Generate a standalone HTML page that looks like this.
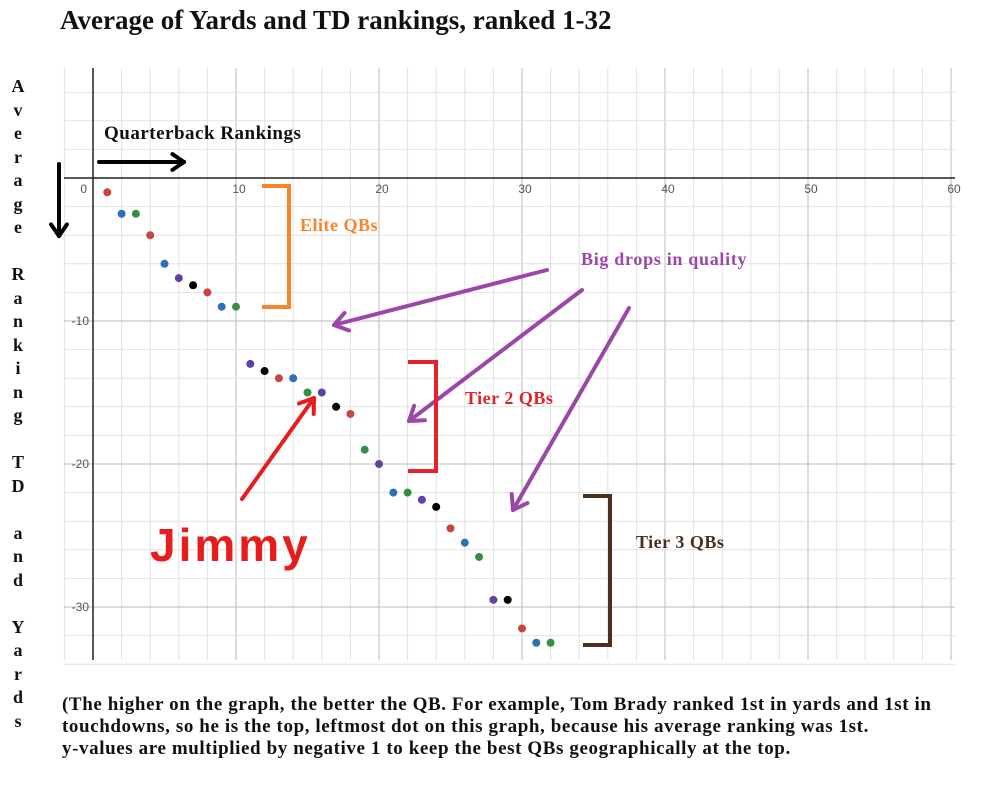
<!DOCTYPE html>
<html><head><meta charset="utf-8">
<style>
html,body{margin:0;padding:0;background:#fff;}
body{width:983px;height:800px;overflow:hidden;position:relative;font-family:"Liberation Serif",serif;}
.t{position:absolute;font-weight:bold;white-space:nowrap;}
.an{font-size:18px;letter-spacing:0.5px;}
</style></head>
<body>
<div class="t" style="left:60px;top:5px;font-size:27px;color:#111;">Average of Yards and TD rankings, ranked 1-32</div>
<svg id="chart" width="983" height="800" style="position:absolute;left:0;top:0">
<g id="grid"></g><g id="axes"></g><g id="pts"></g><g id="anno"></g>
</svg>
<div class="t" style="left:104px;top:123px;font-size:19px;letter-spacing:0.5px;color:#111;">Quarterback Rankings</div>
<div class="t an" style="left:300px;top:215px;color:#f5842c;">Elite QBs</div>
<div class="t an" style="left:581px;top:249px;color:#9b47a8;letter-spacing:0.7px;">Big drops in quality</div>
<div class="t an" style="left:465px;top:388px;color:#e3232b;">Tier 2 QBs</div>
<div class="t an" style="left:636px;top:532px;color:#4a2e1e;">Tier 3 QBs</div>
<div class="t" style="left:150px;top:518px;font-size:46px;color:#e81c1c;font-family:'Liberation Sans',sans-serif;letter-spacing:3px;">Jimmy</div>
<div class="t" style="left:62px;top:694px;font-size:19px;letter-spacing:0.6px;color:#111;line-height:22px;">(The higher on the graph, the better the QB. For example, Tom Brady ranked 1st in yards and 1st in<br>touchdowns, so he is the top, leftmost dot on this graph, because his average ranking was 1st.<br>y-values are multiplied by negative 1 to keep the best QBs geographically at the top.</div>
<div id="ylab"></div>
<script>
const xs=[1,2,3,4,5,6,7,8,9,10,11,12,13,14,15,16,17,18,19,20,21,22,23,24,25,26,27,28,29,30,31,32];
const ys=[-1,-2.5,-2.5,-4,-6,-7,-7.5,-8,-9,-9,-13,-13.5,-14,-14,-15,-15,-16,-16.5,-19,-20,-22,-22,-22.5,-23,-24.5,-25.5,-26.5,-29.5,-29.5,-31.5,-32.5,-32.5];
const cols=["r","b","g","r","b","p","k","r","b","g","p","k","r","b","g","p","k","r","g","p","b","g","p","k","r","b","g","p","k","r","b","g"];
const xTicks=[0,10,20,30,40,50,60];
const yTicks=[-10,-20,-30];
const palette={r:"#c74440",b:"#2d70b3",g:"#388c46",p:"#6042a6",k:"#000000"};
const sx=v=>93+v*14.3, sy=v=>178-v*14.3;
const NS="http://www.w3.org/2000/svg";
function mk(p,tag,a){const e=document.createElementNS(NS,tag);for(const k in a)e.setAttribute(k,a[k]);p.appendChild(e);return e;}
const grid=document.getElementById('grid'),axes=document.getElementById('axes'),pts=document.getElementById('pts'),anno=document.getElementById('anno');
for(let v=-2;v<=60;v+=2){const x=sx(v);const l=mk(grid,'line',{x1:x,x2:x,y1:68,y2:660,stroke:v%10==0?'#bbb':'#e2e2e2','stroke-width':1});

}
for(let v=6;v>=-34;v-=2){const y=sy(v);const l=mk(grid,'line',{x1:64,x2:955,y1:y,y2:y,stroke:v%10==0?'#bbb':'#e2e2e2','stroke-width':1});

}
let a=mk(axes,'line',{x1:sx(0),x2:sx(0),y1:68,y2:660,stroke:'#222','stroke-width':1.5});


a=mk(axes,'line',{x1:64,x2:955,y1:sy(0),y2:sy(0),stroke:'#222','stroke-width':1.5});


xTicks.forEach(v=>{const t=mk(axes,'text',{x:v==0?sx(v)-6:sx(v)+3,y:193,'font-size':12,fill:'#555','font-family':'Liberation Sans, sans-serif','text-anchor':v==0?'end':'middle'});t.textContent=v;

});
yTicks.forEach(v=>{const t=mk(axes,'text',{x:sx(0)-4,y:sy(v)+4,'font-size':12,fill:'#555','font-family':'Liberation Sans, sans-serif','text-anchor':'end'});t.textContent=v;

});
xs.forEach((x,i)=>{const c=mk(pts,'circle',{cx:sx(x),cy:sy(ys[i]),r:4,fill:palette[cols[i]]});

});
function arrow(x1,y1,x2,y2,c,w,h,name){const g=mk(anno,'g',{});
mk(g,'line',{x1,y1,x2,y2,stroke:c,'stroke-width':w,'stroke-linecap':'round'});
const an=Math.atan2(y2-y1,x2-x1);[0.6,-0.6].forEach(d=>mk(g,'line',{x1:x2,y1:y2,x2:x2-h*Math.cos(an+d),y2:y2-h*Math.sin(an+d),stroke:c,'stroke-width':w,'stroke-linecap':'round'}));}
arrow(99,162,184,162,'#000',4,14,'x-direction-arrow');
arrow(59,164,59,236,'#000',4,14,'y-direction-arrow');
arrow(547,270,334,325,'#9b47a8',4,16,'drop-arrow-1');
arrow(582,290,409,421,'#9b47a8',4,16,'drop-arrow-2');
arrow(629,308,513,510,'#9b47a8',4,16,'drop-arrow-3');
arrow(242,499,314,398,'#e81c1c',4,16,'jimmy-arrow');
function br(pts,c,name){const p=mk(anno,'polyline',{points:pts,fill:'none',stroke:c,'stroke-width':4});}
br('262,186 289,186 289,307 262,307','#f5842c','elite-bracket');
br('408,362 436,362 436,471 408,471','#e3232b','tier2-bracket');
br('583,496 610,496 610,645 583,645','#4a2e1e','tier3-bracket');
const letters="Average@Ranking@TD@and@Yards".split('');
const yl=document.getElementById('ylab');let yy=76;
letters.forEach(ch=>{if(ch!='@'){const d=document.createElement('div');d.className='t';d.style.cssText='left:10px;top:'+yy+'px;font-size:18px;width:16px;text-align:center;color:#111;';d.textContent=ch;


yl.appendChild(d);}yy+=23.5;});
</script>
</body></html>
